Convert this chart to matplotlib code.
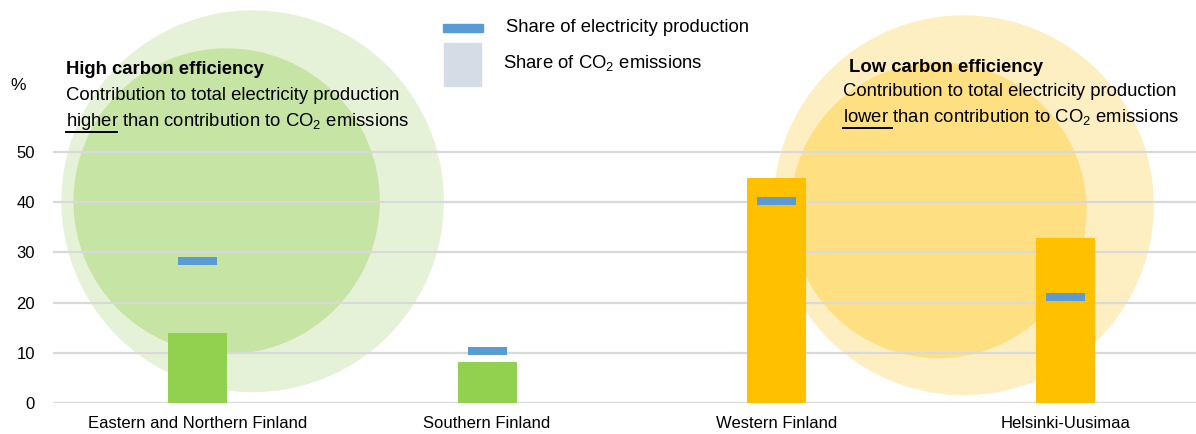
import numpy as np
import matplotlib.pyplot as plt
from matplotlib.patches import Ellipse, Rectangle
from matplotlib.lines import Line2D

plt.rcParams['font.family'] = ['Liberation Sans', 'DejaVu Sans']
plt.rcParams['mathtext.fontset'] = 'custom'
plt.rcParams['mathtext.rm'] = 'Liberation Sans'
plt.rcParams['mathtext.default'] = 'rm'

# --------------------------------------------------
# Data
# --------------------------------------------------
regions = ["Eastern and Northern Finland", "Southern Finland",
           "Western Finland", "Helsinki-Uusimaa"]
co2_share = [14.0, 8.2, 44.8, 32.9]
elec_share = [28.3, 10.4, 40.2, 21.1]
bar_colors = ["#92d050", "#92d050", "#ffc000", "#ffc000"]

# --------------------------------------------------
# Figure / axes
# --------------------------------------------------
W, H = 1196, 434
fig = plt.figure(figsize=(W / 100, H / 100), dpi=100)
ax = fig.add_axes([53 / W, 31 / H, (1196 - 53) / W, 403 / H])

x = np.arange(len(regions))
ax.set_xlim(-0.5, 3.45)
ax.set_ylim(0, 80.3)

# px per data unit, used to keep the background circles round
px_x = 289.0
px_y = 5.02


def circle(cx, cy, r_px, color):
    e = Ellipse((cx, cy), 2 * r_px / px_x, 2 * r_px / px_y,
                facecolor=color, edgecolor="none", zorder=0.2,
                clip_on=False)
    ax.add_patch(e)


# background "efficiency" bubbles
circle(0.19, 40.2, 191, "#e6f2d8")
circle(0.10, 40.2, 153, "#c6e5a5")
circle(2.647, 39.4, 190, "#feefc3")
circle(2.56, 38.4, 148, "#fee083")

# gridlines
for v in range(0, 51, 10):
    ax.axhline(v, color="#d9d9d9", lw=1.6, zorder=0.5)

# CO2 emission bars
ax.bar(x, co2_share, width=0.204, color=bar_colors, zorder=2)

# electricity production markers
mh = 1.6
ax.bar(x, [mh] * len(x), bottom=np.array(elec_share) - mh / 2,
       width=0.135, color="#5b9bd5", zorder=3)

for s in ax.spines.values():
    s.set_visible(False)
ax.set_yticks(range(0, 51, 10))
ax.set_xticks(x)
ax.set_xticklabels(regions)
ax.tick_params(axis="both", length=0, labelsize=12)
ax.tick_params(axis="y", pad=13)
ax.tick_params(axis="x", pad=9)

# --------------------------------------------------
# Annotations (figure pixel coordinates, y from top)
# --------------------------------------------------
def fx(px):
    return px / W


def fy(py):
    return 1 - py / H


FS = 13.3

fig.text(fx(10), fy(85), "%", fontsize=12.5, va="center")

# left block
fig.text(fx(66), fy(70), "High carbon efficiency", fontsize=FS,
         fontweight="bold", va="center")
fig.text(fx(66), fy(96), "Contribution to total electricity production",
         fontsize=FS, va="center")
fig.text(fx(66), fy(121), "higher than contribution to CO$_2$ emissions",
         fontsize=FS, va="center")

# right block
fig.text(fx(849), fy(68), "Low carbon efficiency", fontsize=FS,
         fontweight="bold", va="center")
fig.text(fx(843), fy(92), "Contribution to total electricity production",
         fontsize=FS, va="center")
fig.text(fx(843), fy(117), "lower than contribution to CO$_2$ emissions",
         fontsize=FS, va="center")

# underlines for "higher" and "lower "
fig.canvas.draw()
r = fig.canvas.get_renderer()
for word, x0, y0 in [("higher", 66, 131.5), ("lower ", 843, 127.5)]:
    t = fig.text(0, 0, word, fontsize=FS)
    w = t.get_window_extent(renderer=r).width
    t.remove()
    fig.add_artist(Line2D([fx(x0), fx(x0 + w)], [fy(y0), fy(y0)],
                          color="black", lw=1.4))

# legend
fig.add_artist(Rectangle((fx(443), fy(32)), 40 / W, 8 / H,
                         transform=fig.transFigure, color="#5b9bd5"))
fig.add_artist(Rectangle((fx(444), fy(86)), 37 / W, 43 / H,
                         transform=fig.transFigure, color="#d6dce5"))
fig.text(fx(506), fy(28), "Share of electricity production",
         fontsize=FS, va="center")
fig.text(fx(503), fy(63), "Share of CO$_2$ emissions",
         fontsize=FS, va="center")

fig.savefig("out.png", dpi=100)
